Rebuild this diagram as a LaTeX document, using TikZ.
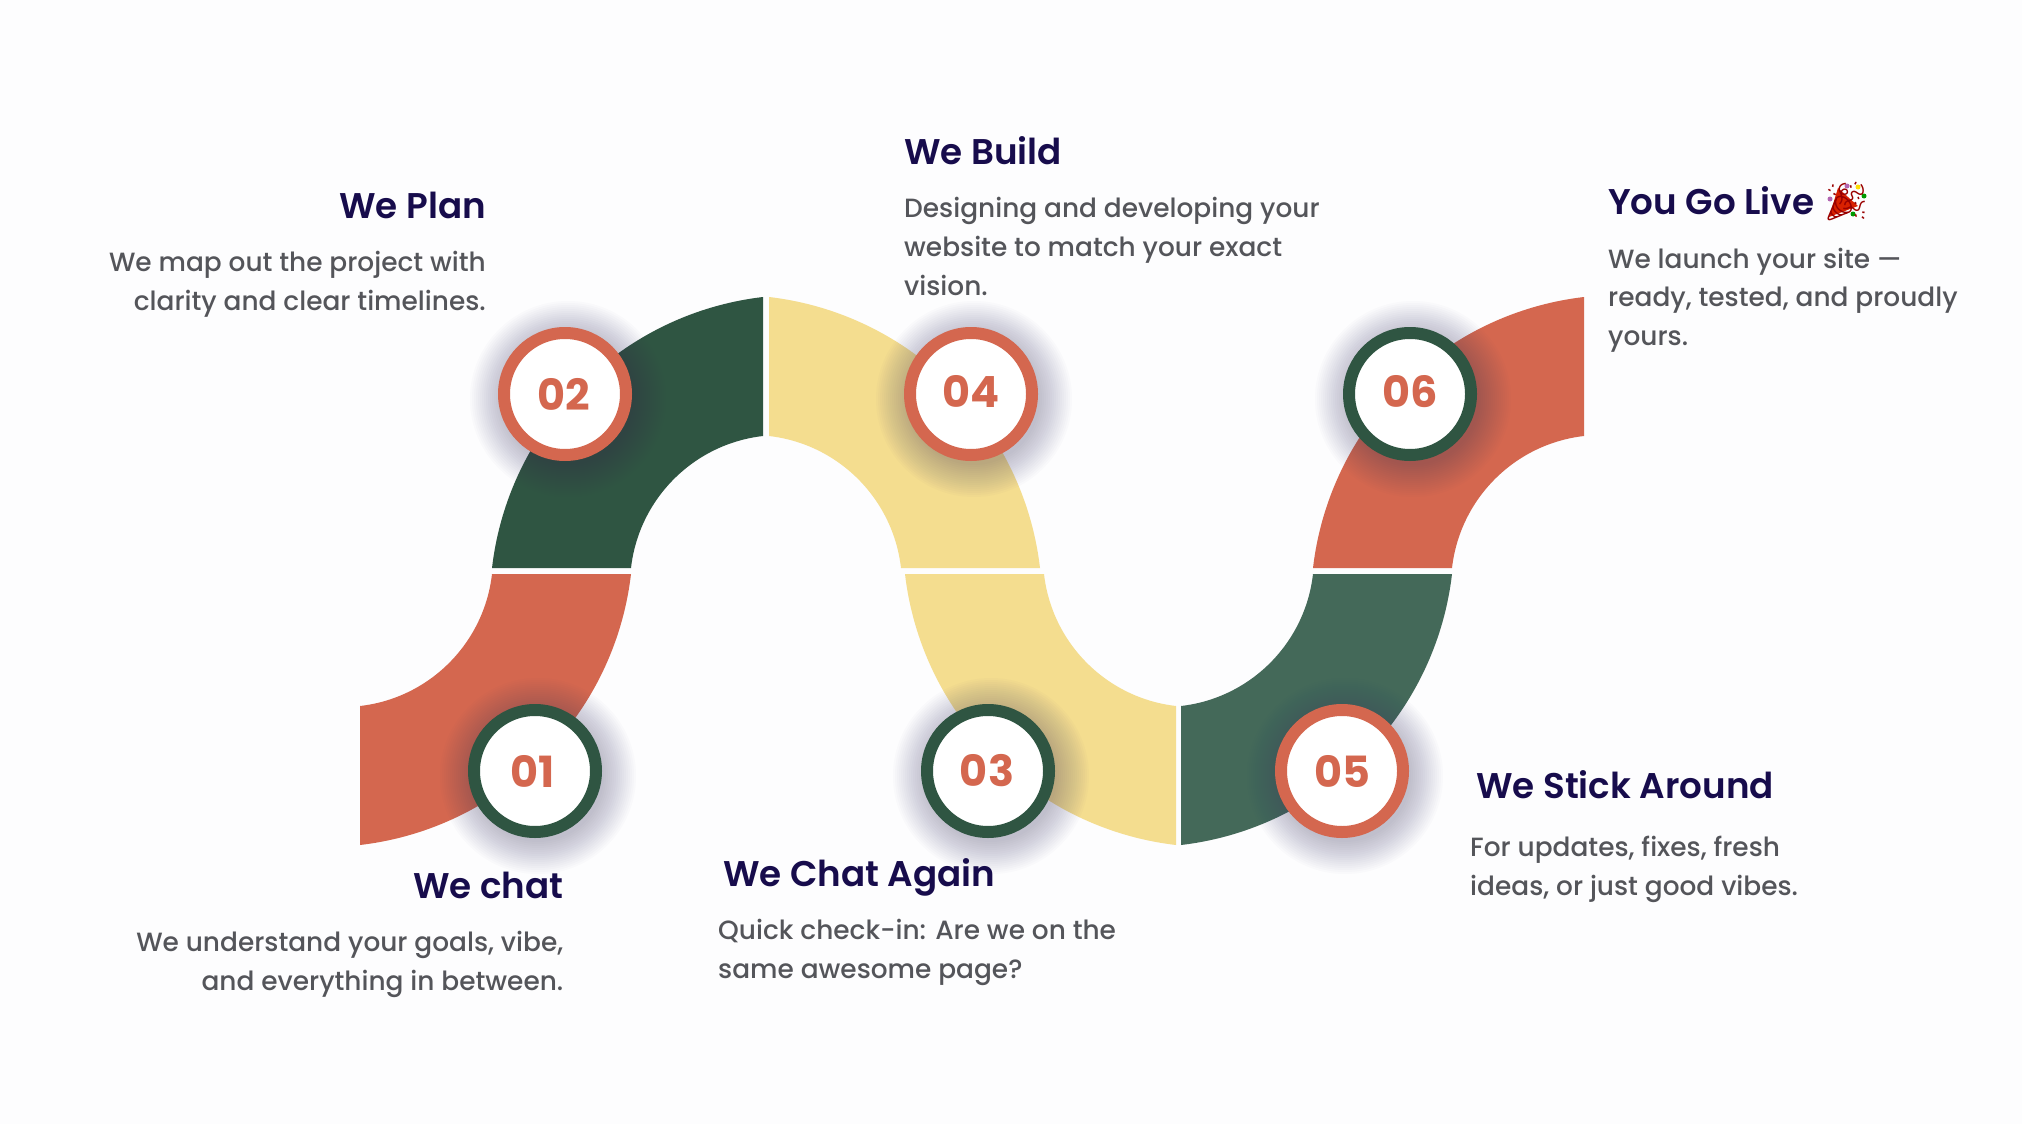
\documentclass[tikz,border=0pt]{standalone}
\usepackage{fontspec}
\setmainfont{Poppins Medium}
\newfontfamily\titlef{Poppins SemiBold}
\newfontfamily\numf{Poppins Bold}
\newfontfamily\emojifont{Noto Emoji}
\definecolor{bgc}{HTML}{FDFDFE}
\definecolor{orangeb}{HTML}{D4674F}
\definecolor{darkg}{HTML}{2F5542}
\definecolor{lightg}{HTML}{446959}
\definecolor{yellowb}{HTML}{F4DD8F}
\definecolor{titlec}{HTML}{170C4C}
\definecolor{bodyc}{HTML}{54555A}
\definecolor{shadowc}{HTML}{3F3A6A}
\tikzset{
  bandshape/.style={fill=#1,draw=none},
  numcircle/.style={circle,draw=#1,line width=12pt,fill=white,minimum size=122pt,inner sep=0pt,text=orangeb,font=\numf\fontsize{43}{43}\selectfont},
  softshadow/.style={fill=shadowc,draw=none,opacity=0.021},
  titletext/.style={inner sep=0pt,text=titlec,font=\titlef\fontsize{35.7}{40}\selectfont},
  bodyleft/.style={inner sep=0pt,text=bodyc,align=left,font=\fontsize{26.4}{38.7}\selectfont},
  bodyright/.style={inner sep=0pt,text=bodyc,align=right,font=\fontsize{26.4}{38.7}\selectfont}
}
\newcommand{\bandpiece}[5]{%
  \begin{scope}[shift={(#1,#2)},xscale=#3,yscale=#4]
    \fill[bandshape=#5] (-271,0) .. controls (-254.4,-142) and (-142,-254.4) .. (0,-271)
      -- (0,-132) .. controls (-69.3,-124.1) and (-124.1,-69.3) .. (-132,0) -- cycle;
  \end{scope}}
\begin{document}
\begin{tikzpicture}[x=1pt,y=-1pt]
\useasboundingbox (0,0) rectangle (2022,1124);
\fill[bgc] (0,0) rectangle (2022,1124);
\bandpiece{360}{574}{-1}{-1}{orangeb}
\bandpiece{763}{568}{1}{1}{darkg}
\bandpiece{1176}{574}{1}{-1}{yellowb}
\bandpiece{769}{568}{-1}{1}{yellowb}
\bandpiece{1181}{574}{-1}{-1}{lightg}
\bandpiece{1584}{568}{1}{1}{orangeb}
\foreach \x/\y in {535/771,565/394,988/771,971/394,1342/771,1410/394}
  \foreach \r in {66,68,...,98}
    \fill[softshadow] (\x+3,\y+5) circle (\r);
\node[numcircle=darkg] (c1) at (535,771) {\kern-5pt 01};
\node[numcircle=orangeb] (c2) at (565,394) {\kern-3pt 02};
\node[numcircle=darkg] (c3) at (988,771) {\kern-2pt\raisebox{1pt}{03}};
\node[numcircle=orangeb] (c4) at (971,394) {\raisebox{5pt}{04}};
\node[numcircle=orangeb] (c5) at (1342,771) {\raisebox{-1pt}{05}};
\node[numcircle=darkg] (c6) at (1410,394) {\raisebox{5pt}{06}};
\node[titletext,anchor=base east] (t2) at (486,218) {We Plan};
\node[bodyright,anchor=base east] (d2) at (486,310.5) {We map out the project with\\clarity and clear timelines.};
\node[titletext,anchor=base west] (t4) at (904,164) {We Build};
\node[bodyleft,anchor=base west] (d4) at (904,295) {Designing and developing your\\website to match your exact\\vision.};
\node[titletext,anchor=base west] (t6) at (1608,214) {You Go Live};
\fill[red!70!orange!85!black] (1829,217) -- (1838,188) -- (1858,206) -- cycle;
\foreach \x/\y/\c in {1830/199/violet!60,1858/187/yellow!80!orange,1864/196/green!60!black,1847/186/violet!60,1853/214/green!60!black}
  \fill[\c] (\x,\y) circle (2.5);
\node[anchor=base west,inner sep=0pt,text=red!60!black,font=\emojifont\fontsize{38}{38}\selectfont] (e6) at (1822,214) {🎉};
\node[bodyleft,anchor=base west] (d6) at (1608,345.5) {We launch your site —\\ready, tested, and proudly\\yours.};
\node[titletext,anchor=base east] (t1) at (563.5,898) {We chat};
\node[bodyright,anchor=base east] (d1) at (563.5,990) {We understand your goals, vibe,\\and everything in between.};
\node[titletext,anchor=base west] (t3) at (723,886) {We Chat Again};
\node[bodyleft,anchor=base west] (d3) at (718,978) {Quick check-in: Are we on the\\same awesome page?};
\node[titletext,anchor=base west] (t5) at (1476,798) {We Stick Around};
\node[bodyleft,anchor=base west] (d5) at (1470,895) {For updates, fixes, fresh\\ideas, or just good vibes.};
\end{tikzpicture}
\end{document}
